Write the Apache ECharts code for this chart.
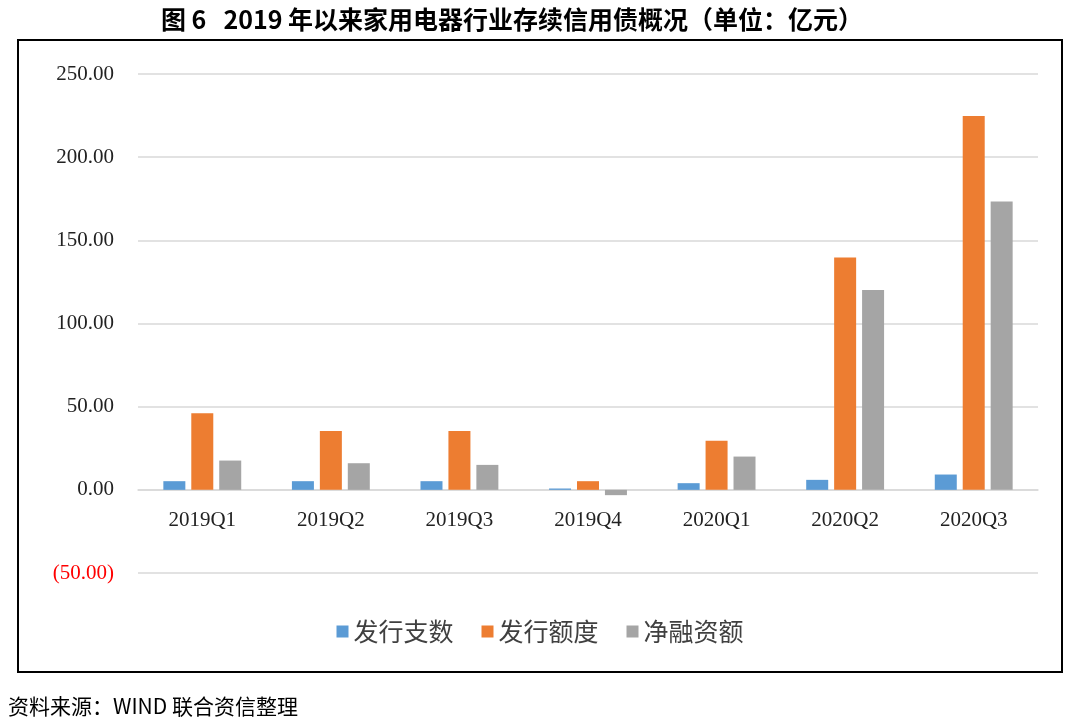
<!DOCTYPE html>
<html><head><meta charset="utf-8">
<script src="https://cdn.jsdelivr.net/npm/echarts@6/dist/echarts.min.js"></script>
<style>html,body{margin:0;padding:0;background:#fff}#c{width:1080px;height:726px}</style>
</head><body><div id="c"></div>
<script>
const categories = ['2019Q1','2019Q2','2019Q3','2019Q4','2020Q1','2020Q2','2020Q3'];
const seriesNames = ['发行支数','发行额度','净融资额'];
const issueCount = [5.2, 5.2, 5.2, 0.8, 4.0, 6.0, 9.2];
const issueAmount = [46.1, 35.3, 35.3, 5.2, 29.5, 139.7, 224.8];
const netFinancing = [17.6, 16.0, 15.0, -3.2, 20.0, 120.2, 173.3];
const colors = ['#5B9BD5','#ED7D31','#A5A5A5'];

const chart = echarts.init(document.getElementById('c'));
const mk = (name, data, i) => ({
  name, type: 'bar', data,
  barWidth: 22, barGap: '27%',
  itemStyle: {color: colors[i]}
});
chart.setOption({
  animation: false,
  title: {
    text: '图 6   2019 年以来家用电器行业存续信用债概况（单位：亿元）',
    left: 507, top: 2, textAlign: 'center',
    textStyle: {fontFamily: 'Noto Sans CJK SC', fontWeight: 'bold', fontSize: 25, color: '#000'}
  },
  graphic: [
    {type: 'rect', shape: {x: 18, y: 40, width: 1044, height: 632},
     style: {fill: 'none', stroke: '#000', lineWidth: 2}},
    {type: 'text', left: 8, top: 696,
     style: {text: '资料来源：WIND 联合资信整理', fontFamily: 'Noto Sans CJK SC', fontSize: 21, fill: '#000'}}
  ],
  legend: {
    data: seriesNames, left: 'center', top: 614,
    itemWidth: 12, itemHeight: 12, itemGap: 28,
    icon: 'rect',
    textStyle: {fontFamily: 'Noto Sans CJK SC', fontSize: 25, color: '#404040'}
  },
  grid: {left: 138, right: 42, top: 74, bottom: 153, containLabel: false},
  xAxis: {
    type: 'category', data: categories,
    offset: -83,
    axisLine: {onZero: false, lineStyle: {color: '#d9d9d9', width: 1.5}},
    axisTick: {show: false},
    axisLabel: {margin: 20, fontFamily: 'Liberation Serif', fontSize: 21, color: '#222'}
  },
  yAxis: {
    type: 'value', min: -50, max: 250, interval: 50,
    axisLine: {show: false}, axisTick: {show: false},
    splitLine: {lineStyle: {color: '#d9d9d9', width: 1.5}},
    axisLabel: {
      margin: 24, fontFamily: 'Liberation Serif', fontSize: 21, color: '#222',
      formatter: v => v < 0 ? '{r|(' + Math.abs(v).toFixed(2) + ')}' : v.toFixed(2),
      rich: {r: {color: '#ff0000', fontFamily: 'Liberation Serif', fontSize: 21}}
    }
  },
  series: [mk(seriesNames[0], issueCount, 0), mk(seriesNames[1], issueAmount, 1), mk(seriesNames[2], netFinancing, 2)]
});
</script></body></html>
